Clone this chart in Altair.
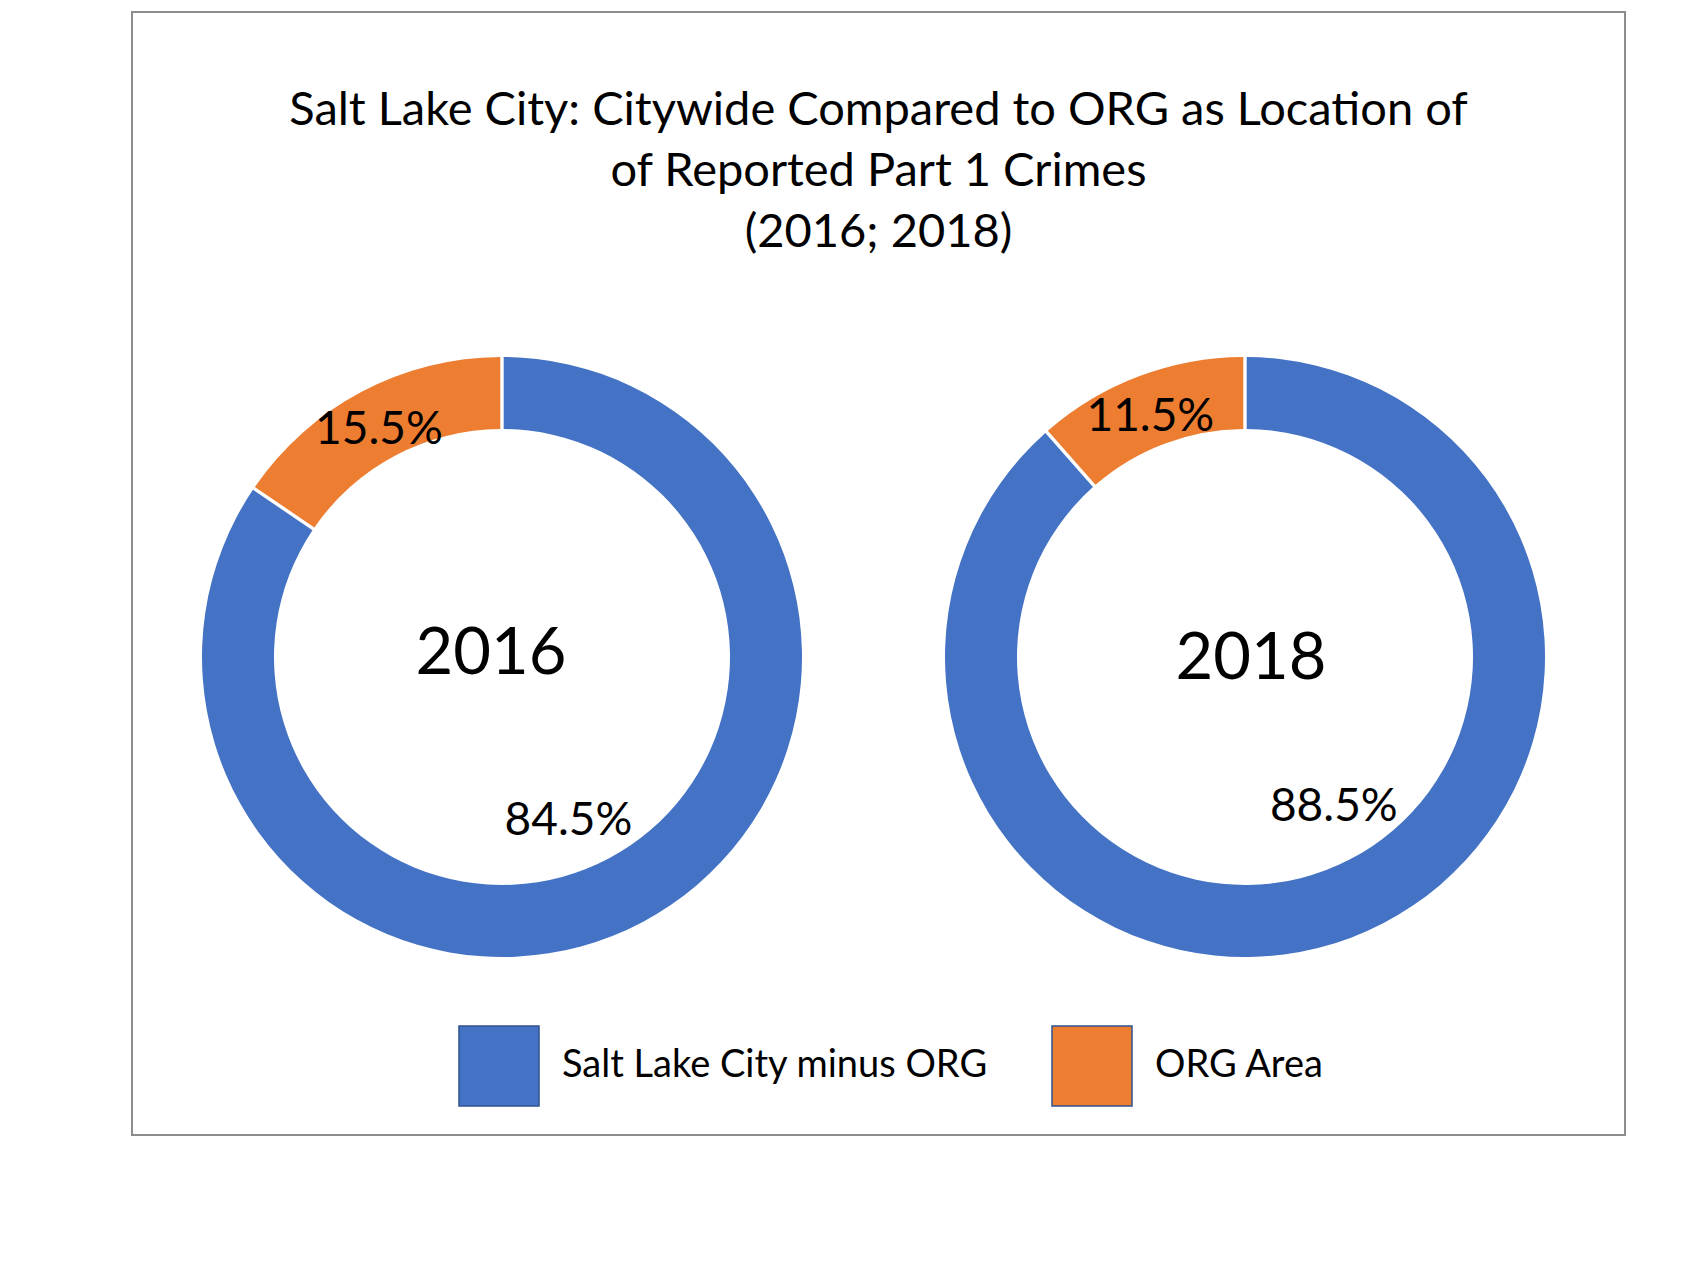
import altair as alt
import pandas as pd

# ---- data ----
years = ["2016", "2018"]
categories = ["Salt Lake City minus ORG", "ORG Area"]
share_2016 = [84.5, 15.5]
share_2018 = [88.5, 11.5]
colors = ["#4472C4", "#ED7D31"]

title_lines = [
    "Salt Lake City: Citywide Compared to ORG as Location of",
    "of Reported Part 1 Crimes",
    "(2016; 2018)",
]

rows = []
for yr, vals in zip(years, [share_2016, share_2018]):
    for i, (cat, v) in enumerate(zip(categories, vals)):
        rows.append({"year": yr, "category": cat, "value": v, "order": i})
df = pd.DataFrame(rows)
years_df = pd.DataFrame({"year": years})

FONT = "Lato"
CY = 645

base = alt.Chart(df).transform_window(
    cum="sum(value)", groupby=["year"], sort=[alt.SortField("order")]
).transform_calculate(
    start="datum.cum - datum.value",
    mid="datum.cum - datum.value / 2",
    label="format(datum.value, '.1f') + '%'",
)

xenc = alt.X("year:N", axis=None,
             scale=alt.Scale(type="point", domain=years, range=[370, 1113],
                             padding=0))
theta_scale = alt.Scale(domain=[0, 100])

arcs = base.mark_arc(innerRadius=228, outerRadius=300, padAngle=0.009).encode(
    x=xenc,
    y=alt.value(CY),
    theta=alt.Theta("start:Q", scale=theta_scale),
    theta2="cum:Q",
    color=alt.Color(
        "category:N",
        scale=alt.Scale(domain=categories, range=colors),
        legend=alt.Legend(
            orient="none", legendX=326, legendY=1013, direction="horizontal",
            title=None, symbolType="square", symbolSize=6400,
            labelFontSize=38, labelFont=FONT, labelColor="black",
            labelOffset=22, labelLimit=0, columnPadding=60, padding=0,
            symbolOpacity=1, symbolStrokeColor="#2F528F",
            symbolStrokeWidth=1.5,
        ),
    ),
)


def labels(year, small_off, big_off, year_off):
    sub = base.transform_filter(alt.datum.year == year)
    small = sub.transform_filter(alt.datum.order == 1).mark_text(
        radius=265, fontSize=46, font=FONT, color="black",
        dx=small_off[0], dy=small_off[1]).encode(
        x=xenc, y=alt.value(CY),
        theta=alt.Theta("mid:Q", scale=theta_scale), text="label:N")
    big = sub.transform_filter(alt.datum.order == 0).mark_text(
        radius=172, fontSize=46, font=FONT, color="black",
        dx=big_off[0], dy=big_off[1]).encode(
        x=xenc, y=alt.value(CY),
        theta=alt.Theta("mid:Q", scale=theta_scale), text="label:N")
    yl = alt.Chart(years_df).transform_filter(alt.datum.year == year).mark_text(
        fontSize=65, font=FONT, color="black",
        dx=year_off[0], dy=year_off[1]).encode(
        x=xenc, y=alt.value(CY), text="year:N")
    return [small, big, yl]


layers = [arcs]
layers += labels("2016", (1, 7), (-14, 12), (-11, -3))
layers += labels("2018", (-1, 8), (28, -11), (6, 2))

chart = alt.layer(*layers).properties(
    width=1493,
    height=1123,
    padding={"left": 124, "top": 4, "right": 40, "bottom": 60},
    autosize=alt.AutoSizeParams(type="none"),
    title=alt.TitleParams(
        text=title_lines, anchor="middle", fontSize=47, font=FONT,
        fontWeight="normal", color="black", lineHeight=61,
        offset=-245,
    ),
).configure_view(stroke="#8c8c8c", strokeWidth=2)

chart.save("out.html", embed_options={"renderer": "svg", "actions": False})
